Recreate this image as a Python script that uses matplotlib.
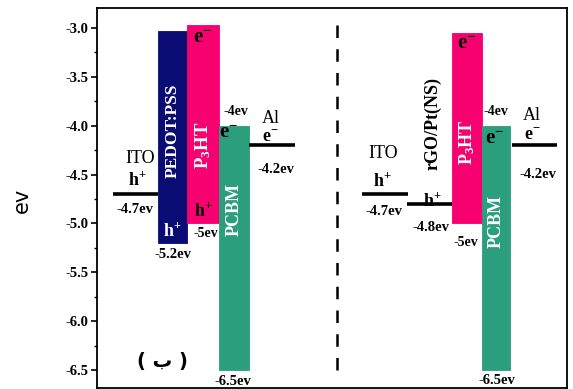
import matplotlib
matplotlib.use("Agg")
import matplotlib.pyplot as plt
from matplotlib.ticker import MultipleLocator

plt.rcParams["mathtext.fontset"] = "custom"
plt.rcParams["mathtext.rm"] = "Liberation Serif"
plt.rcParams["mathtext.it"] = "Liberation Serif:italic"
plt.rcParams["mathtext.bf"] = "Liberation Serif:bold"

# Energy levels (eV)
ito_level = -4.7
pedot_top, pedot_bottom = -3.03, -5.2
p3ht_lumo_left, p3ht_homo = -2.97, -5.0
p3ht_lumo_right = -3.05
pcbm_lumo, pcbm_homo = -4.0, -6.5
al_level = -4.2
rgo_level = -4.8

yticks = [-3.0, -3.5, -4.0, -4.5, -5.0, -5.5, -6.0, -6.5]

NAVY = "#0b0b74"
PINK = "#f7006f"
TEAL = "#2b9e7e"
SERIF = "Liberation Serif"

fig = plt.figure(figsize=(5.73, 3.89), dpi=100)
ax = fig.add_axes([0.169, 0.003, 0.8205, 0.976])
ax.set_xlim(0, 47)
ax.set_ylim(-6.68, -2.8)


def bar(x0, x1, top, bottom, color):
    ax.bar((x0 + x1) / 2, top - bottom, width=x1 - x0, bottom=bottom,
           color=color, edgecolor=color, linewidth=0.6, zorder=2)


def level(x0, x1, y):
    ax.plot([x0, x1], [y, y], color="black", lw=2.6, solid_capstyle="butt", zorder=3)


def txt(x, y, s, size=9, color="black", rot=0, weight="bold", **kw):
    ax.text(x, y, s, fontsize=size, color=color, rotation=rot, ha="center",
            va="center", family=SERIF, weight=weight, zorder=4, **kw)


def charge(x, y, s, color="black", size=14):
    txt(x, y, r"$\mathbf{" + s[0] + r"}^{\mathbf{" + s[1] + r"}}$", size, color)


# ---- left device: ITO / PEDOT:PSS / P3HT:PCBM / Al ----
level(1.6, 6.1, ito_level)
bar(6.1, 9.0, pedot_top, pedot_bottom, NAVY)
bar(9.0, 12.2, p3ht_lumo_left, p3ht_homo, PINK)
bar(12.2, 15.2, pcbm_lumo, pcbm_homo, TEAL)
level(15.2, 19.8, al_level)

txt(4.3, -4.34, "ITO", 13, weight="normal")
charge(4.0, -4.56, "h+", size=13)
txt(3.8, -4.86, "-4.7ev", 10.5)
txt(7.55, -4.05, "PEDOT:PSS", 12.5, "white", 90)
charge(7.55, -5.08, "h+", "white", 13)
txt(7.6, -5.32, "-5.2ev", 10.5)
charge(10.6, -3.1, "e-", size=15)
txt(10.6, -4.2, r"P$_\mathbf{3}$HT", 13.5, "white", 90)
charge(10.6, -4.87, "h+", size=13)
txt(10.9, -5.1, "-5ev", 10)
txt(13.9, -3.86, "-4ev", 10)
charge(13.2, -4.08, "e-", size=15)
txt(13.7, -4.86, "PCBM", 13, "white", 90)
txt(17.4, -3.93, "Al", 13, weight="normal")
charge(17.3, -4.12, "e-", size=13)
txt(17.9, -4.45, "-4.2ev", 10.5)
txt(13.6, -6.62, "-6.5ev", 10.5)
ax.text(6.6, -6.41, "( ب )", fontsize=14, ha="center", va="center",
        family="DejaVu Sans", weight="bold")

# separator between the two devices
ax.plot([24.0, 24.0], [-6.5, -2.93], color="black", lw=1.8,
        dashes=(5, 4.5), zorder=3)

# ---- right device: ITO / rGO/Pt(NS) / P3HT:PCBM / Al ----
level(26.5, 31.1, ito_level)
level(31.0, 35.5, rgo_level)
bar(35.5, 38.5, p3ht_lumo_right, p3ht_homo, PINK)
bar(38.5, 41.3, pcbm_lumo, pcbm_homo, TEAL)
level(41.5, 46.0, al_level)

txt(28.6, -4.29, "ITO", 13, weight="normal")
charge(28.5, -4.57, "h+", size=13)
txt(28.7, -4.88, "-4.7ev", 10.5)
charge(33.5, -4.77, "h+", size=13)
txt(33.4, -5.04, "-4.8ev", 10.5)
txt(33.6, -3.98, "rGO/Pt(NS)", 13, "black", 90)
charge(37.0, -3.17, "e-", size=15)
txt(37.0, -4.17, r"P$_\mathbf{3}$HT", 13, "white", 90)
txt(36.9, -5.19, "-5ev", 10)
txt(39.9, -3.86, "-4ev", 10)
charge(39.8, -4.14, "e-", size=15)
txt(39.9, -4.98, "PCBM", 13, "white", 90)
txt(43.5, -3.9, "Al", 13, weight="normal")
charge(43.5, -4.1, "e-", size=13)
txt(44.1, -4.5, "-4.2ev", 10.5)
txt(40.0, -6.6, "-6.5ev", 10.5)

# axes styling
ax.set_xticks([])
ax.set_yticks(yticks)
ax.set_yticklabels([f"{v:.1f}" for v in yticks], family=SERIF,
                   weight="bold", fontsize=10.5)
ax.yaxis.set_minor_locator(MultipleLocator(0.25))
ax.tick_params(axis="y", which="major", direction="out", length=4, width=1.2, pad=2)
ax.tick_params(axis="y", which="minor", direction="out", length=2.5, width=1.0)
for s in ax.spines.values():
    s.set_linewidth(1.3)

fig.text(0.038, 0.485, "ev", rotation=90, fontsize=15, ha="center",
         va="center", family="DejaVu Sans")

fig.savefig("out.png", dpi=100)
